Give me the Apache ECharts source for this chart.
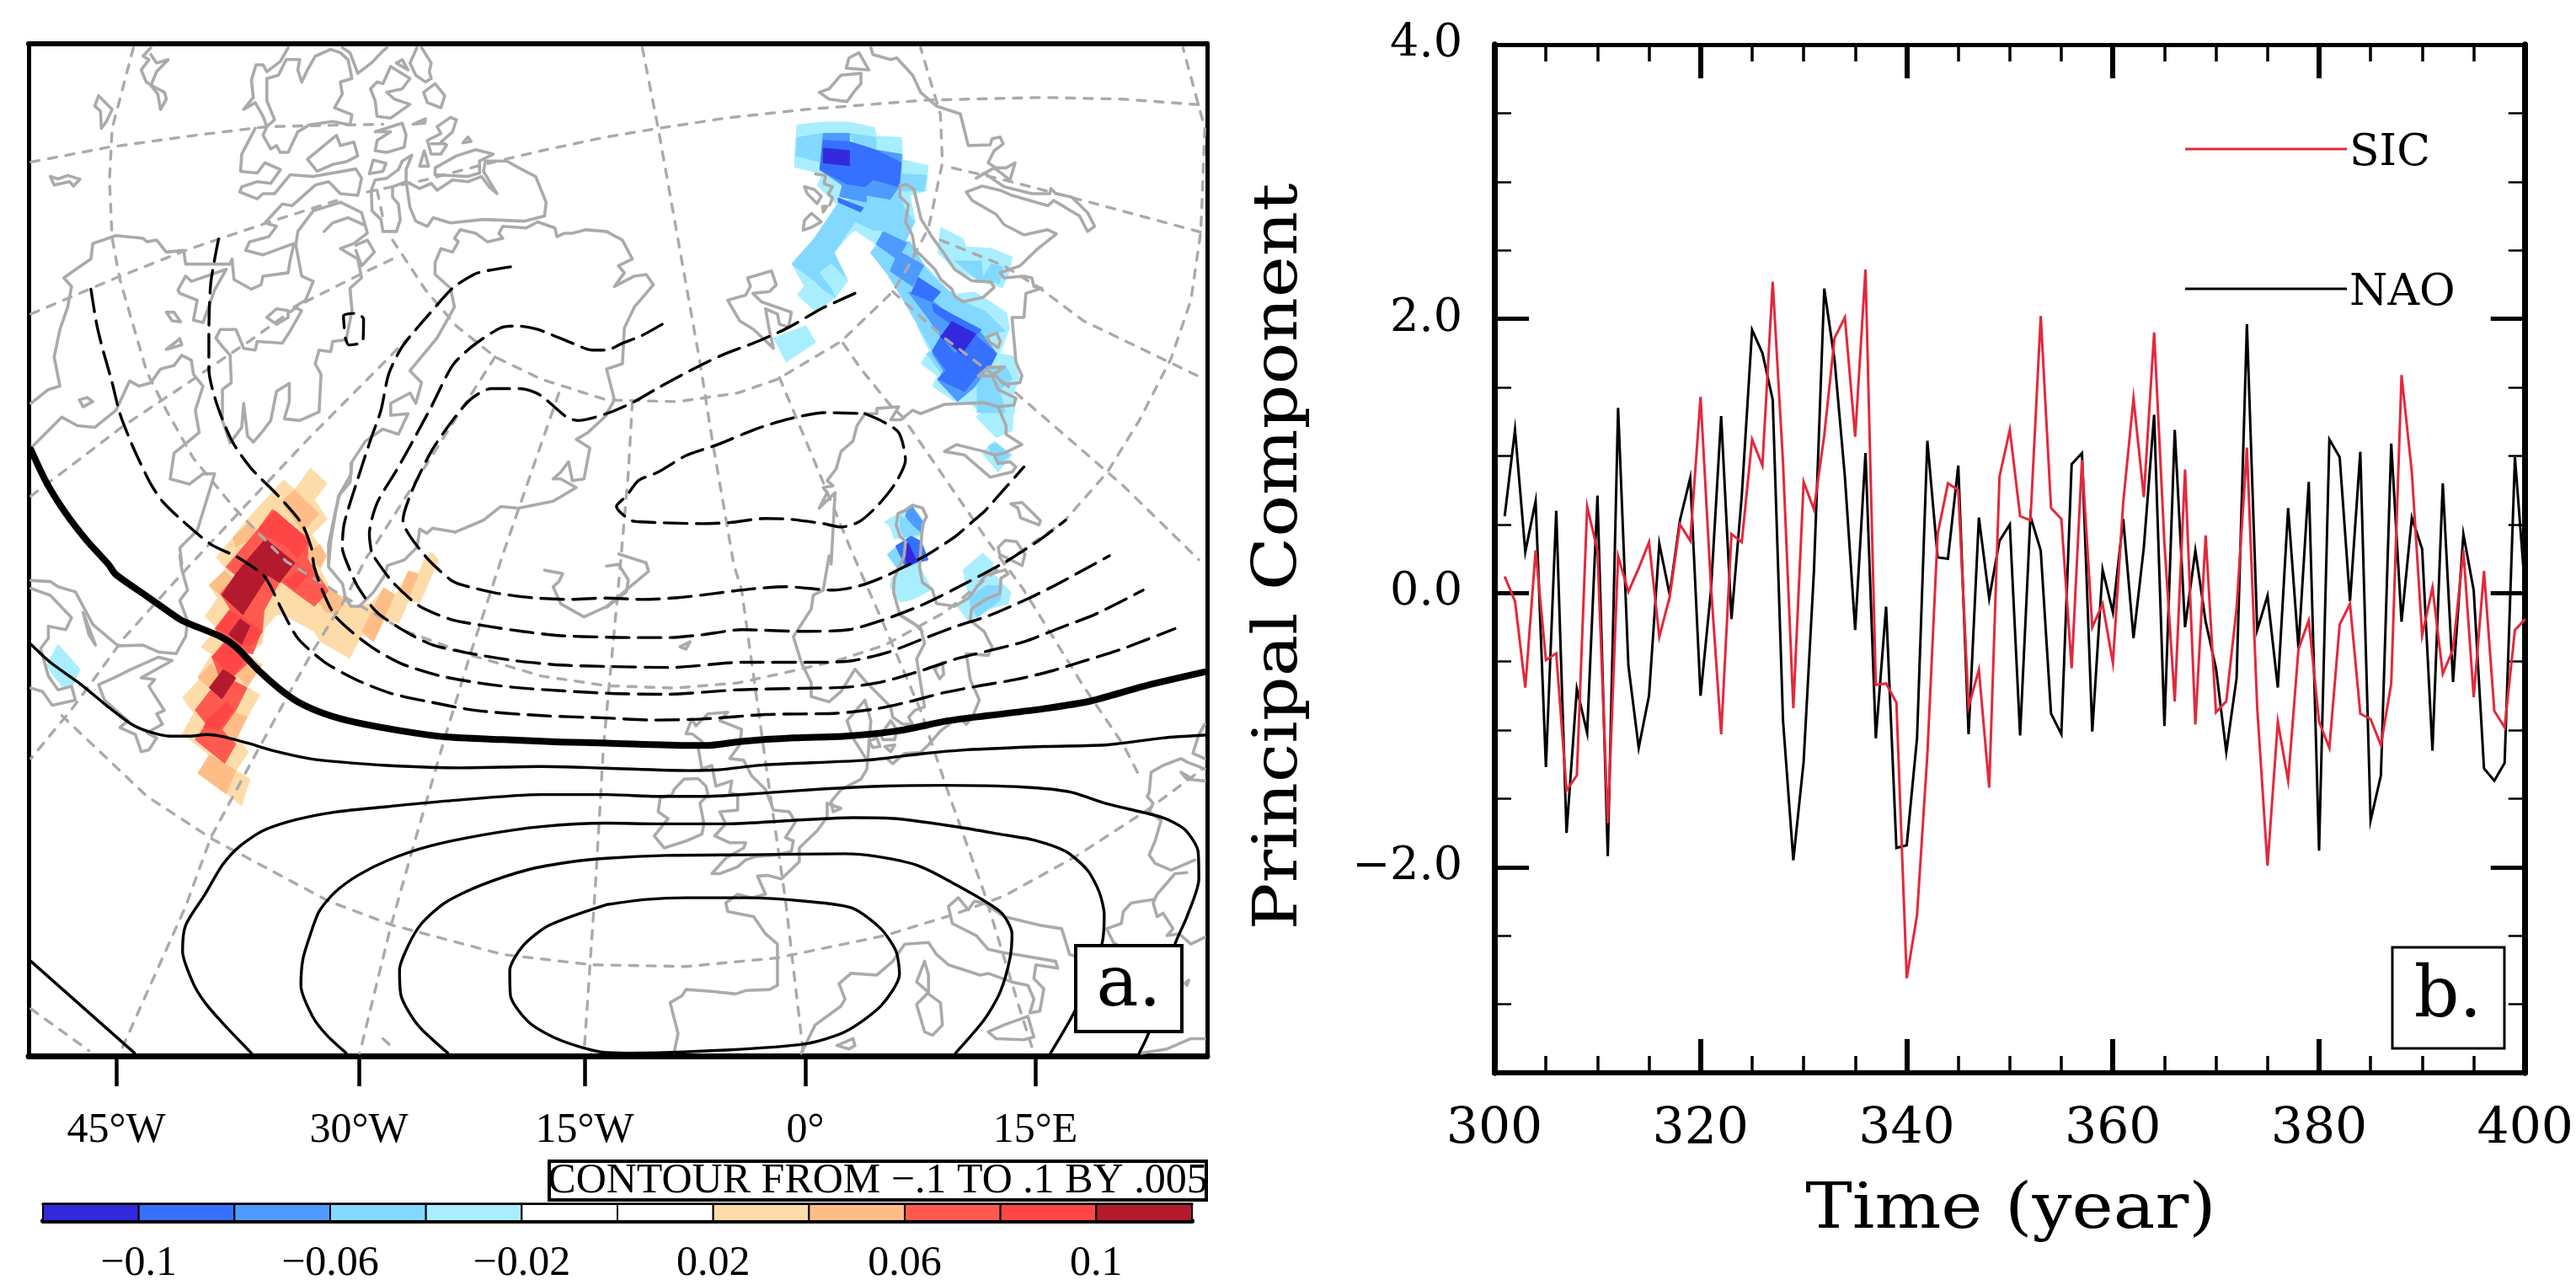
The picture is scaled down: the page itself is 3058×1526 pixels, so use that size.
<!DOCTYPE html>
<html><head><meta charset="utf-8">
<script src="https://cdn.jsdelivr.net/npm/echarts@6/dist/echarts.min.js"></script>
<style>html,body{margin:0;padding:0;background:#fff}#c{width:3058px;height:1526px}</style>
</head><body><div id="c"></div>
<script>
// ---------- panel b data ----------
const years=[];for(let y=301;y<=400;y++)years.push(y);
const nao=[0.56,1.19,0.30,0.67,-1.27,0.60,-1.75,-0.70,-1.02,0.71,-1.92,1.35,-0.53,-1.13,-0.75,0.36,-0.01,0.53,0.84,-0.75,
0.01,1.29,-0.19,0.71,1.92,1.75,1.41,-0.93,-1.95,-1.23,0.16,2.22,1.70,0.85,-0.27,1.02,-1.06,-0.10,-1.86,-1.84,
-1.06,1.11,0.26,0.25,0.93,-1.03,0.55,-0.04,0.38,0.50,-1.04,0.56,0.31,-0.88,-1.03,0.94,1.02,-1.01,0.17,-0.14,
0.54,-0.33,0.33,1.30,-0.97,1.19,-0.25,0.31,-0.21,-0.55,-1.16,-0.62,1.96,-0.27,-0.02,-0.69,0.62,-0.40,0.81,-1.88,
1.12,0.99,-0.06,1.03,-1.66,-1.33,1.09,-0.21,0.55,0.32,-1.15,0.80,-0.65,0.43,0.02,-1.28,-1.37,-1.24,0.99,0.01];
const sic=[0.12,-0.06,-0.69,0.31,-0.49,-0.44,-1.44,-1.33,0.63,0.31,-1.68,0.27,0.01,0.18,0.37,-0.32,-0.03,0.50,0.38,1.43,
0.06,-1.03,0.43,0.37,1.12,0.93,2.27,0.95,-0.84,0.81,0.61,1.15,1.86,2.01,1.14,2.36,-0.67,-0.66,-0.80,-2.81,
-2.35,-1.18,0.43,0.80,0.75,-0.83,-0.56,-1.42,0.85,1.19,0.56,0.53,2.02,0.62,0.54,-0.55,0.97,-0.25,-0.08,-0.51,
0.66,1.42,0.70,1.90,0.36,-0.79,0.90,-0.96,0.42,-0.87,-0.79,-0.11,1.06,-0.84,-1.99,-0.94,-1.37,-0.41,-0.20,-0.94,
-1.13,-0.23,-0.08,-0.88,-0.92,-1.11,-0.66,1.59,0.88,-0.31,0.04,-0.59,-0.41,0.31,-0.76,0.16,-0.86,-0.98,-0.27,-0.19];
const yMajor=[-2,0,2,4];
const yMinor=[-3,-2.5,-1.5,-1,-0.5,0.5,1,1.5,2.5,3,3.5];

// ---------- panel a axis and colour bar ----------
const lonTicks=[138,426,694,956,1229];
const lonLabels=['45°W','30°W','15°W','0°','15°E'];
const levelColors=['#3229dd','#3670fe','#4e9bff','#83d8ff','#a9eeff','#ffffff','#ffffff','#fedcaa','#febd87','#ff5a50','#ff4646','#b31a2d'];
const barTicks=[1,3,5,7,9,11];
const barLabels=['−0.1','−0.06','−0.02','0.02','0.06','0.1'];

// ---------- map plane readers (crop origin + crop scale) ----------
const tile=(x0,y0,sx,sy)=>p=>p.map(([x,y])=>[x0+x/sx,y0+y/sy]);
const A=tile(0,30,2.178,2.45),B=tile(720,30,2.119,2.45),C=tile(0,660,2.178,2.45),D=tile(720,660,2.119,2.45),
      W=tile(180,550,3,3),N=tile(900,130,3,3),S=tile(1040,580,3,3);

// ---------- contours ----------
const solidThick=[...A([[80,1235],[120,1330],[170,1420],[225,1500],[280,1568]]),...C([[300,55],[380,118],[465,185],[490,198],[570,235],[610,265],[670,335],[720,385],[770,425],[840,460],[920,485],[1040,510],[1150,527],[1300,535],[1450,542],[1568,545]]),...D([[210,552],[250,552],[340,540],[470,530],[600,525],[730,510],[860,480],[960,465],[1100,445],[1220,422],[1350,380],[1505,338]])];
const solid1=[...C([[80,258],[130,310],[210,375],[280,440],[340,490],[385,512],[440,525],[490,525],[535,520],[580,527],[640,545],[710,568],[800,590],[880,600],[1000,610],[1190,617],[1400,613],[1568,618]]),...D([[210,625],[280,623],[400,608],[650,595],[800,575],[900,565],[1100,555],[1260,550],[1400,530],[1505,522]])];
const solid2=[...C([[650,1447],[580,1365],[530,1300],[500,1245],[472,1150],[480,1075],[530,985],[575,900],[620,845],[680,800],[765,768],[870,745],[1000,730],[1170,712],[1400,695],[1568,695]]),...D([[130,700],[250,700],[400,690],[550,678],[700,670],[850,668],[1050,673],[1165,687],[1260,722],[1400,762],[1455,797],[1488,860],[1490,940],[1460,1050],[1430,1130],[1365,1385],[1340,1447]])];
const solid3=[...C([[895,1447],[845,1395],[808,1340],[778,1250],[783,1175],[800,1110],[825,1035],[865,980],[925,930],[1005,885],[1110,845],[1250,812],[1400,788],[1568,778]]),...D([[130,780],[300,780],[470,770],[620,762],[730,765],[890,790],[1000,812],[1075,827],[1155,860],[1210,915],[1240,980],[1252,1045],[1245,1135],[1180,1320],[1117,1447]])];
const solid4=[...C([[1158,1447],[1080,1365],[1037,1280],[1033,1205],[1055,1135],[1090,1070],[1150,1010],[1240,960],[1370,912],[1480,890],[1568,880]]),...D([[150,872],[350,870],[600,867],[680,875],[780,900],[860,945],[990,1035],[1020,1100],[1015,1170],[990,1270],[950,1350],[878,1447]])];
const solid5=[...C([[1568,1015],[1420,1075],[1352,1135],[1318,1207],[1320,1280],[1370,1360],[1450,1410],[1560,1445]]),...D([[50,1447],[300,1438],[500,1420],[600,1385],[690,1310],[737,1217],[728,1150],[690,1085],[618,1025],[500,1005],[350,995],[200,995],[100,1000],[0,1015]])];
const solid6=C([[80,1180],[348,1447]]);
const dashD=[...A([[235,768],[250,870],[265,940],[290,1040],[310,1130],[345,1230],[390,1335],[420,1385],[470,1440],[545,1510],[610,1545]]),...C([[630,15],[680,55],[700,90],[730,160],[770,240],[840,310],[920,360],[1010,400],[1110,425],[1230,450],[1400,465],[1568,472]]),...D([[120,478],[240,475],[400,462],[580,458],[680,445],[760,425],[850,398],[940,378],[1030,360],[1120,335],[1205,305],[1295,272],[1430,212]])];
const dashC=[...A([[565,622],[545,750],[540,900],[540,1000],[560,1100],[600,1210],[650,1290],[720,1370],[780,1450],[805,1520]]),...C([[812,30],[835,105],[870,180],[960,265],[1040,315],[1140,350],[1250,372],[1350,385],[1568,400]]),...D([[150,403],[330,390],[520,385],[610,382],[700,365],[790,335],[880,300],[1050,250],[1140,210],[1230,170],[1350,100]])];
const dashB=[...A([[1320,703],[1255,715],[1225,725],[1170,765],[1110,840],[1040,935],[1005,1015],[985,1120],[960,1200],[925,1320],[890,1450],[885,1520]]),...C([[895,15],[925,90],[975,165],[1055,225],[1120,260],[1220,285],[1330,305],[1450,318],[1568,322]]),...D([[160,325],[340,310],[540,310],[620,305],[710,280],[800,240],[880,205],[960,175],[1060,125],[1130,85],[1210,35],[1265,0]])];
const dashA=[...B([[140,870],[85,905],[40,925],[0,945]]),...A([[1530,945],[1480,925],[1390,885],[1340,875],[1295,880],[1220,935],[1170,990],[1115,1110],[1060,1225],[1025,1295],[975,1390],[955,1480],[960,1530]]),...C([[965,0],[1010,70],[1055,120],[1090,150],[1165,185],[1260,205],[1350,220],[1445,232],[1568,237]]),...D([[60,238],[155,238],[240,230],[340,215],[490,220],[610,215],[700,185],[790,145],[870,100],[1000,20]]),...B([[1080,1505],[1110,1480],[1155,1440]])];
const dashE=[...B([[625,780],[540,825],[460,878],[380,920],[290,960],[210,1005],[130,1055],[70,1095],[0,1130]]),...A([[1495,1150],[1465,1140],[1395,1075],[1345,1057],[1270,1057],[1215,1090],[1160,1165],[1115,1240],[1065,1355],[1042,1440],[1100,1545]]),...C([[1165,70],[1195,85],[1280,108],[1375,122],[1470,127],[1568,123]]),...D([[90,127],[180,122],[270,110],[360,97],[450,90],[570,100],[635,88],[700,60]]),...B([[800,1545],[855,1505],[880,1485],[925,1440],[950,1415],[985,1370],[1050,1285]])];
const dashOval=B([[650,1130],[690,1150],[735,1185],[752,1265],[725,1335],[680,1400],[635,1445],[590,1460],[545,1450],[460,1437],[400,1435],[310,1447],[240,1450],[90,1445],[60,1440],[25,1400],[50,1370],[80,1325],[130,1300],[200,1252],[280,1220],[375,1175],[460,1145],[550,1127],[650,1130]]);
const dashSquare=A([[890,880],[888,845],[920,838],[940,855],[938,920],[902,930],[893,910]]);

// ---------- graticule ----------
const graticule=[
 A([[80,398],[280,355],[520,318],[690,295],[900,290],[990,288]]),
 [...A([[950,485],[1100,450],[1250,405],[1400,365],[1568,325]]),...B([[130,300],[300,270],[500,245],[800,218],[1100,210],[1300,215],[1500,232]])],
 A([[80,840],[300,735],[480,655],[690,575],[870,510]]),
 A([[80,1370],[320,1165],[480,1045],[590,960],[650,915],[780,810],[940,720],[1015,680]]),
 [...A([[1060,905],[800,1200],[620,1415],[500,1560]]),...C([[440,90],[320,240],[190,440],[80,590]])],
 [...A([[345,65],[290,300],[283,450],[290,620],[310,740],[380,1010],[430,1120],[500,1260],[610,1410],[740,1560]]),...C([[890,120],[1050,220],[1220,290],[1400,350],[1568,378]]),...D([[170,385],[330,370],[450,340],[580,305],[700,260],[850,165]]),...B([[1030,1540],[1150,1445],[1260,1300],[1340,1150],[1420,970],[1470,800],[1495,600],[1505,300],[1450,65]])],
 [...C([[160,465],[380,700],[550,825],[850,1005],[1015,1075],[1300,1160],[1530,1190]]),...D([[200,1195],[430,1170],[700,1105],[870,1045],[1000,990],[1180,875],[1360,740],[1500,620]])],
 C([[80,1318],[230,1440]]),C([[990,1405],[1010,1425]]),
 [...A([[975,480],[990,560]])],
 [...A([[1015,625],[1100,770],[1180,875],[1280,965],[1400,1030],[1568,1090]]),...B([[180,1095],[330,1070],[430,1030],[590,920],[720,775],[760,700],[810,590],[845,400],[840,260],[790,65]])],
 [...A([[1280,965],[1090,1300],[960,1530]]),...C([[950,0],[890,130],[810,275],[745,405],[650,600],[545,820],[480,1020],[310,1447]])],
 [...A([[1445,1070],[1340,1410],[1300,1540]]),...C([[1270,100],[1215,290],[1150,530],[1065,860],[1010,1080],[930,1447]])],
 [...B([[65,1095],[55,1300],[35,1568]]),...C([[1560,560],[1540,950],[1510,1447]])],
 [...B([[435,1025],[520,1260],[620,1540]]),...D([[690,180],[790,450],[860,690],[950,980],[1040,1320],[1075,1447]])],
 [...B([[90,65],[130,300],[235,980],[265,1200],[320,1568]]),...D([[340,100],[400,600],[450,1000],[495,1447]])],
 [...B([[595,925],[640,1000],[710,1100],[745,1140],[900,1400],[965,1510]]),...D([[1050,100],[1200,380],[1300,550],[1340,640]])],
 B([[720,775],[850,910],[1000,1040],[1150,1190],[1300,1340],[1490,1555]]),
 B([[870,415],[1000,450],[1200,510],[1505,605]]),
 B([[840,625],[1000,700],[1090,765],[1200,860],[1505,1030]]),
];

// ---------- coastlines ----------
const coastNW=[
 [[390,65],[370,90],[385,100],[365,130],[378,165],[400,180],[425,195],[430,215],[415,245],[408,200],[390,175],[405,135],[435,100],[405,110],[390,85]],
 [[255,205],[245,235],[260,250],[262,300],[275,280],[290,245],[255,205]],
 [[130,440],[140,465],[180,455],[190,468],[207,448],[175,437],[150,447],[130,440]],
 [[205,1090],[215,1110],[240,1095],[225,1083],[205,1090]],
 [[745,65],[725,105],[690,135],[680,115],[662,115],[650,160],[655,210],[630,245],[660,225],[680,265],[690,295],[680,320],[700,360],[715,350],[725,370],[745,370],[770,310],[800,290],[860,280],[905,290],[910,260],[865,240],[885,200],[880,165],[910,155],[900,100],[880,80],[855,70],[815,90],[795,130],[780,165],[770,130],[775,100],[740,100],[720,145],[690,155],[690,220],[710,275],[690,295]],
 [[885,65],[905,80],[925,140],[960,110],[990,75],[1000,65]],
 [[1010,120],[1060,155],[1040,185],[1000,195],[1020,215],[1060,230],[1010,270],[975,265],[970,220],[958,185],[975,165],[990,170],[1010,120]],
 [[1025,110],[1055,130],[1040,100],[1025,110]],
 [[1090,65],[1115,110],[1110,135],[1115,155],[1100,165],[1075,145],[1060,110],[1078,65]],
 [[1095,195],[1125,170],[1150,205],[1140,240],[1105,225],[1095,195]],
 [[970,310],[1040,285],[1050,320],[1045,355],[1000,370],[970,365],[975,335],[1010,310],[970,310]],
 [[1068,288],[1100,272],[1098,285],[1068,288]],
 [[1105,335],[1140,315],[1130,295],[1165,268],[1180,275],[1170,310],[1140,340],[1155,348],[1140,375],[1115,375],[1105,335]],
 [[1197,342],[1210,325],[1218,338],[1197,342]],
 [[1085,410],[1097,365],[1108,410],[1085,410]],
 [[955,432],[965,392],[998,402],[990,425],[955,432]],
 [[1065,378],[1040,395],[1030,420],[1000,445],[970,450],[960,480],[962,540],[985,565],[990,600],[1025,600],[1035,565],[1030,520],[1015,500],[1015,470],[1050,455],[1050,420],[1065,378]],
 [[795,390],[870,320],[880,350],[915,340],[925,380],[895,397],[860,405],[820,425],[795,390]],
 [[660,300],[625,375],[622,425],[665,430],[685,400],[725,420],[700,460],[665,455],[625,470],[620,485],[665,505],[680,490],[710,490],[750,435],[810,440],[920,418],[935,445],[925,495],[880,490],[850,455],[815,465],[755,525],[730,520],[685,575],[715,585],[695,615],[645,630],[635,655],[680,668],[760,635],[750,685],[745,720],[680,730],[675,755],[650,768],[605,740],[600,680],[595,695],[480,695],[475,655],[430,660],[405,625],[380,630],[370,620],[300,612],[240,635],[235,680],[190,715],[165,735],[185,760],[175,820],[155,885],[140,965],[155,1050],[125,1060],[80,1100]],
 [[80,1230],[160,1140],[200,1165],[245,1170],[300,1120],[335,1035],[360,1050],[390,1040],[415,1000],[450,990],[470,960],[495,975],[500,1015],[525,1050],[505,1120],[515,1185],[450,1245],[440,1320],[490,1335],[525,1305],[555,1305],[510,1470],[465,1520],[470,1568]],
 [[880,515],[810,540],[770,600],[765,640],[780,730],[810,745],[790,800],[760,820],[780,830],[750,890],[730,925],[665,920],[660,945],[630,940],[610,885],[570,885],[558,910],[575,935],[595,960],[598,1040],[575,1060],[575,1150],[595,1215],[625,1170],[630,1100],[640,1195],[655,1213],[680,1180],[700,1150],[715,1065],[748,1042],[748,1095],[735,1145],[775,1150],[825,1125],[830,1015],[815,985],[825,945],[855,950],[860,920],[895,915],[910,830],[905,765],[935,735],[925,680],[880,650],[915,635],[950,605],[935,545],[880,515]],
 [[838,600],[860,575],[900,560],[940,580]],
 [[920,640],[950,625],[968,660],[935,700],[920,655]],
 [[460,770],[480,730],[495,745],[585,710],[555,770],[525,865],[500,858],[510,800],[465,780],[460,770]],
 [[690,850],[715,825],[745,830],[745,850],[715,870],[690,850]],
 [[430,835],[450,835],[467,863],[445,860],[430,835]],
 [[430,943],[465,912],[470,930],[430,943]],
 [[1050,455],[1060,530],[1075,570],[1105,585],[1120,560],[1165,575],[1250,565],[1355,570],[1408,555],[1412,515],[1385,440],[1350,420],[1310,395],[1255,395],[1250,425],[1285,490],[1265,470],[1245,440],[1210,455],[1170,450],[1130,480],[1115,460],[1085,475],[1050,455]],
 [[1125,435],[1125,415],[1180,380],[1230,362],[1275,375],[1240,395],[1240,430],[1210,440],[1125,435]],
 [[1115,345],[1150,345]],
 [[1568,600],[1515,595],[1480,605],[1460,605],[1440,615],[1435,590],[1390,572],[1360,590],[1300,585],[1290,605],[1300,620],[1260,630],[1230,605],[1190,595],[1175,620],[1185,630],[1170,660],[1140,650],[1125,690],[1125,725],[1165,765],[1175,820],[1130,910],[1060,1005],[1090,1040],[1075,1100],[1060,1070],[1010,1100],[1010,1135],[1055,1130],[1030,1190],[990,1175],[945,1210],[910,1270],[905,1330],[875,1370],[855,1500],[850,1568]],
 [[1176,1475],[1250,1440],[1295,1400],[1340,1405],[1430,1385],[1490,1345],[1450,1320],[1430,1320],[1450,1300],[1470,1270],[1480,1325],[1510,1320],[1525,1230],[1490,1205],[1520,1185],[1568,1135]],
];
const coastSW=[
 [[465,0],[470,40],[485,100],[465,130],[485,190],[480,235],[455,285],[410,280],[370,260],[305,262],[240,200],[195,105],[150,90],[130,75],[80,72]],
 [[80,95],[130,115],[185,180],[170,215],[125,205],[125,240],[105,270],[125,350],[150,390],[185,380],[195,420],[135,435],[110,395],[80,385]],
 [[215,165],[247,260],[230,230],[215,165]],
 [[445,305],[410,295],[340,330],[295,355],[255,375],[270,420],[330,480],[310,500],[350,520],[365,570],[385,565],[405,530],[380,515],[420,490],[405,460],[425,450],[385,380],[400,360],[365,355],[445,305]],
 [[1408,42],[1455,52],[1445,75],[1430,90],[1450,140],[1510,178],[1568,148],[1677,45],[1670,20],[1600,-5]],
];
const coastDenmarkStrait=[
 [[710,0],[710,40],[670,110],[655,170],[630,290],[630,370],[680,430],[690,480],[710,510],[740,510],[790,460],[830,400],[840,365],[900,345],[945,300],[955,235],[980,250],[1000,232],[1080,245]],
];
const coastNE=[
 [[0,600],[40,625],[65,680],[30,700],[45,720],[20,760],[70,730],[100,725],[118,755],[70,820],[45,880],[40,985],[0,1000],[20,1090],[0,1130]],
 [[603,125],[610,95],[635,80],[660,130],[603,125]],
 [[640,140],[590,145],[560,185],[535,195],[560,215],[605,222],[625,190],[640,170],[640,140]],
 [[665,65],[670,85],[715,100],[730,95],[770,145],[790,195],[830,235],[890,258],[910,350],[965,348],[970,330],[990,325],[998,345],[975,365],[960,400],[980,415],[1005,415],[1028,400],[1015,450],[975,415],[930,445],[950,430],[1000,470],[1070,490],[1115,490],[1118,475],[1130,490],[1170,500],[1210,545],[1228,585],[1210,600],[1190,555],[1125,510],[1110,525],[1020,495],[990,480],[945,468],[905,485],[920,510],[980,550],[1000,580],[1050,610],[1110,595],[1132,607],[1085,650],[1040,700],[990,720],[1000,735],[1050,730],[1070,735],[1075,760],[1095,765],[1055,780],[1050,850],[1020,850],[1030,980],[1045,1020],[1040,1040],[1000,1045],[975,1015],[1000,995],[960,995],[935,1020],[970,1020],[985,1060],[1030,1085],[1025,1105],[985,1110],[950,1098],[850,1103],[790,1130],[770,1120],[740,1148],[715,1148],[735,1110],[680,1115],[680,1130],[650,1130],[630,1165],[620,1210],[590,1240],[578,1290],[555,1325],[570,1340],[545,1345],[555,1360],[535,1405],[575,1360],[565,1568]],
 [[305,800],[350,785],[362,760],[355,735],[415,715],[427,755],[410,775],[368,780],[390,805],[465,835],[458,878],[435,870],[430,840],[400,825],[410,890],[420,940],[370,885],[335,860],[305,800]],
 [[975,1250],[950,1240],[880,1220],[850,1240],[900,1250],[965,1315],[1020,1300],[1030,1285],[1015,1270],[985,1275],[975,1250],[1000,1245],[1045,1220],[1005,1190],[1005,1165],[985,1110]],
];
const coastIslandsBarents=[
 [[205,230],[240,235],[235,265],[265,275],[250,300],[265,315],[255,340]],
 [[165,275],[200,285],[225,310],[210,335],[175,300],[165,275]],
 [[230,345],[245,345],[232,365],[230,345]],
 [[160,430],[165,395],[190,370],[225,400],[190,420],[160,430]],
 [[505,270],[530,268],[555,285],[580,390],[620,455],[660,510],[700,570],[760,610],[830,615],[840,635],[800,670],[730,685],[700,665],[690,640],[650,605],[630,570],[570,510],[560,515],[550,450],[525,400],[535,340],[505,310],[505,270]],
 [[815,810],[850,797],[862,825],[855,848],[825,830],[815,810]],
];
const coastBaltic=[
 [[130,60],[100,80],[78,90],[72,130],[85,170],[105,190],[100,240],[65,320],[62,370],[85,450],[140,485],[165,510]],
 [[130,60],[165,70],[180,100],[165,130],[155,280],[165,335],[200,360],[215,410],[280,420],[330,390],[390,310],[460,290],[470,305],[445,320],[440,375],[390,395],[340,430],[335,470],[385,510],[400,540]],
 [[480,55],[520,50],[545,75],[585,115],[580,130],[515,105],[505,70],[480,55]],
 [[435,210],[460,185],[500,190],[530,235],[520,275],[490,260],[440,235],[435,210]],
];
const coastEurope=[
 [[0,150],[50,105],[55,70],[30,25],[0,30]],
 [[560,0],[545,100],[520,115],[515,155],[470,235],[490,310],[515,370],[515,410],[560,425],[590,395],[625,330],[655,370],[715,440],[720,470],[745,490],[770,490],[760,470],[775,450],[800,440],[780,300],[800,255],[790,210],[737,172]],
 [[960,245],[970,265],[960,290],[905,285],[915,360],[938,420],[920,470],[905,490],[885,470],[840,510],[810,550],[790,572],[750,575],[720,605],[705,590],[655,595],[620,530],[605,480],[650,420],[665,480],[655,620],[640,650],[590,680],[565,715],[570,745],[590,735],[555,720],[555,760],[530,800],[485,850],[485,890],[440,940],[405,930],[380,932],[400,985],[365,995],[330,985],[300,1010],[305,1035],[370,1050],[400,1100],[430,1130],[430,1250],[410,1262],[350,1265],[325,1275],[270,1268],[200,1262],[190,1280],[160,1300],[180,1390],[170,1445]],
 [[490,1447],[525,1365],[590,1310],[600,1290],[585,1245],[615,1215],[680,1220],[720,1180],[750,1130],[810,1125],[830,1160],[860,1190],[940,1220],[960,1215],[1020,1240],[1060,1250],[1075,1290],[1065,1330],[1090,1325],[1100,1260],[1075,1230],[1080,1190],[1135,1200],[1130,1180],[1030,1160],[1000,1155],[960,1145],[930,1105],[870,1070],[860,1020],[885,995],[910,1030],[925,1005],[950,1010],[1000,1050],[1090,1075],[1145,1085],[1165,1160],[1180,1165]],
 [[690,520],[715,480],[730,505],[725,535],[695,535],[690,520]],
 [[660,540],[680,530],[688,555],[670,558],[660,540]],
 [[700,555],[725,550],[715,570],[700,555]],
 [[200,518],[215,475],[225,495],[255,460],[305,455],[285,480],[340,505],[335,550],[310,590],[345,595],[365,640],[400,680],[420,740],[460,745],[475,775],[450,820],[470,830],[465,860],[430,870],[375,875],[350,885],[330,905],[285,925],[265,925],[300,880],[345,850],[350,835],[310,835],[272,815],[300,780],[285,745],[330,740],[330,695],[310,690],[315,655],[275,670],[265,610],[240,620],[230,555],[240,540],[215,518],[200,518]],
 [[170,680],[195,650],[230,648],[250,670],[255,695],[235,720],[245,780],[240,810],[200,830],[145,850],[120,815],[155,765],[130,745],[135,705],[165,695],[170,680]],
 [[185,265],[210,250],[200,272],[185,265]],
 [[825,330],[845,310],[848,345],[838,358],[825,330]],
 [[580,1425],[620,1405],[625,1425],[610,1435],[580,1425]],
 [[800,1180],[810,1220],[810,1275],[840,1300],[845,1365],[820,1395],[800,1385],[780,1305],[810,1270],[780,1240],[800,1180]],
 [[960,1385],[1000,1365],[1060,1340],[1075,1400],[1050,1408],[980,1405],[960,1385]],
 [[1505,1405],[1470,1405],[1410,1435],[1345,1447]],
 [[1447,1250],[1465,1235],[1460,1250]],
 [[1505,490],[1490,520],[1475,575],[1505,590]],
 [[1505,620],[1460,600],[1445,590],[1400,610],[1370,630],[1365,690],[1360,700],[1375,720],[1365,745],[1395,770],[1380,830],[1365,870],[1380,895],[1420,915],[1480,885]],
 [[1475,650],[1445,630],[1460,650],[1505,655]],
 [[1460,922],[1430,925],[1385,985],[1375,1010],[1385,1050],[1400,1040],[1425,1085],[1410,1105],[1440,1100],[1470,1130],[1505,1110]],
 [[1375,1000],[1320,1010],[1300,1035],[1295,1070],[1258,1085],[1275,1125],[1310,1150],[1380,1155]],
];

// ---------- shaded cells: [colour level, outline] ----------
const shadeWarm=[
 [7,[[565,18],[625,72],[580,130],[625,200],[570,255],[625,330],[600,380],[640,450],[720,510],[780,500],[830,445],[870,470],[890,430],[915,385],[950,395],[975,335],[1000,320],[1022,345],[955,497],[915,490],[880,570],[830,555],[790,635],[750,610],[705,695],[600,635],[580,600],[470,540],[445,540],[400,590],[395,640],[345,680],[395,720],[340,800],[385,825],[340,905],[300,970],[345,1030],[300,1095],[350,1125],[320,1220],[265,1175],[170,1105],[205,1040],[110,965],[150,890],[110,835],[170,770],[165,760],[215,680],[175,655],[235,590],[190,545],[235,480],[205,435],[265,375],[230,335],[290,265],[350,190],[470,60],[510,95]]],
 [8,[[470,130],[510,95],[595,180],[540,245],[470,150]]],
 [8,[[290,265],[345,215],[390,245],[300,300]]],
 [8,[[205,435],[260,385],[300,420],[245,470]]],
 [8,[[540,330],[600,290],[620,330],[600,370]]],
 [8,[[590,490],[640,450],[690,490],[660,540],[620,530]]],
 [8,[[750,600],[825,445],[865,470],[790,635]]],
 [8,[[885,460],[915,385],[950,395],[915,480]]],
 [8,[[165,765],[210,715],[250,760],[205,800]]],
 [8,[[300,750],[345,705],[390,720],[340,795]]],
 [8,[[165,1105],[205,1040],[300,1095],[265,1178]]],
 [8,[[255,950],[290,885],[340,905],[300,985]]],
 [9,[[265,370],[380,235],[430,165],[560,270],[555,340],[630,455],[580,510],[510,460],[465,425],[455,425],[400,525],[395,590],[360,680],[310,670],[340,715],[280,770],[340,800],[300,880],[250,950],[300,1000],[260,1070],[155,985],[195,930],[155,880],[205,815],[245,770],[215,690],[265,630],[225,590],[280,520],[245,465],[300,400]]],
 [10,[[380,235],[440,170],[480,205],[560,280],[520,340],[470,290],[410,260],[385,245]]],
 [10,[[470,420],[540,375],[560,395],[510,450]]],
 [10,[[230,590],[275,525],[325,550],[395,600],[355,650],[310,650],[275,610]]],
 [10,[[215,690],[265,640],[330,700],[290,760]]],
 [10,[[205,905],[270,850],[290,880],[240,950],[185,940]]],
 [11,[[250,470],[300,395],[345,340],[405,270],[510,355],[455,425],[415,400],[325,540]]],
 [11,[[275,610],[315,555],[350,580],[320,645]]],
 [11,[[205,800],[255,735],[300,765],[250,840]]],
];
const shadeColdNorth=[
 [4,[[138,55],[230,45],[325,45],[415,65],[420,95],[510,100],[515,180],[605,200],[598,290],[540,305],[560,400],[525,470],[590,555],[610,570],[690,660],[770,650],[835,690],[885,725],[895,780],[860,870],[910,880],[930,955],[910,1010],[915,1080],[790,1080],[760,1050],[700,1040],[620,985],[640,950],[580,905],[610,860],[565,770],[590,760],[465,600],[470,570],[400,510],[420,480],[345,430],[330,440],[270,510],[320,610],[275,670],[205,720],[140,660],[165,630],[120,550],[200,460],[280,340],[210,270],[230,230],[130,205],[130,170]]],
 [4,[[55,815],[170,770],[205,830],[100,900]]],
 [4,[[650,420],[730,460],[740,490],[830,495],[905,525],[895,580],[870,635],[790,610],[700,570],[640,510]]],
 [3,[[138,100],[232,85],[232,190],[135,165]]],
 [3,[[325,85],[420,100],[420,145],[515,160],[510,230],[600,235],[590,290],[500,290],[400,240]]],
 [3,[[285,335],[385,305],[500,290],[520,350],[555,400],[525,470],[440,430],[410,430],[345,400],[270,510],[315,605],[260,640],[275,670],[230,640],[200,610],[120,550],[200,460]]],
 [4,[[220,580],[260,550],[320,610],[270,650]]],
 [3,[[400,510],[430,480],[540,470],[600,570],[650,620],[720,680],[810,720],[880,790],[815,800],[780,870],[700,920],[660,950],[600,870],[620,860],[570,770],[470,600]]],
 [3,[[780,940],[880,910],[905,960],[860,1000],[880,1080],[780,1080]]],
 [3,[[700,540],[795,540],[800,600],[830,550],[870,560],[860,620],[780,605]]],
 [2,[[232,85],[325,85],[325,115],[420,145],[510,160],[505,270],[470,320],[385,305],[385,330],[290,310],[300,270],[220,215]]],
 [2,[[420,480],[445,435],[530,475],[510,510],[590,555],[550,630],[470,575],[490,530]]],
 [2,[[535,650],[620,680],[690,740],[790,790],[850,870],[830,900],[770,990],[710,1040],[640,965],[660,930],[620,870],[650,810],[610,750]]],
 [1,[[232,110],[325,115],[420,145],[510,190],[500,275],[410,250],[380,275],[315,265],[220,215]]],
 [1,[[285,315],[375,350],[365,365],[285,330]]],
 [1,[[545,655],[570,598],[650,650],[620,685]]],
 [1,[[620,690],[700,735],[795,785],[775,805],[680,760],[625,720]]],
 [1,[[650,810],[700,870],[775,805],[850,870],[830,910],[770,960],[735,1005],[640,960],[670,930],[620,860]]],
 [0,[[232,138],[325,147],[325,200],[232,190]]],
 [0,[[650,810],[690,755],[775,800],[725,870]]],
];
const shadeColdKara=[
 [4,[[905,1070],[1000,1050],[1025,1110],[1020,1180],[980,1200],[930,1140],[970,1100]]],
 [4,[[945,1245],[975,1210],[1020,1250],[985,1300]]],
 [3,[[960,1225],[980,1215],[1015,1250],[985,1280]]],
];
const shadeColdSouth=[
 [4,[[30,120],[70,95],[115,65],[150,90],[175,125],[165,170],[105,175],[65,180],[50,135]]],
 [3,[[85,100],[120,115],[165,160],[100,175],[85,140]]],
 [2,[[110,80],[130,65],[170,125],[165,160],[130,130],[105,100]]],
 [3,[[40,235],[95,190],[120,170],[160,185],[185,250],[150,265],[120,285],[75,285]]],
 [1,[[95,190],[125,170],[160,190],[185,255],[140,265],[105,280],[70,205]]],
 [0,[[100,205],[115,195],[145,260],[110,280]]],
 [4,[[55,320],[95,290],[150,270],[185,335],[200,360],[130,395],[85,405],[50,350]]],
 [4,[[310,290],[380,230],[415,265],[415,300],[480,370],[470,410],[400,430],[330,475],[285,415],[330,380]]],
 [3,[[335,385],[395,345],[450,350],[440,400],[360,460],[335,415]]],
];
const shadeLabrador=[[4,[[150,258],[207,330],[190,375],[160,380],[120,320]]]];

// ---------- build ----------
const shades=[
 ...shadeLabrador.map(([l,p])=>[l,C(p)]),
 ...shadeWarm.map(([l,p])=>[l,W(p)]),
 ...shadeColdKara.map(([l,p])=>[l,B(p)]),
 ...shadeColdNorth.map(([l,p])=>[l,N(p)]),
 ...shadeColdSouth.map(([l,p])=>[l,S(p)]),
];
const coasts=[...coastNW.map(A),...coastSW.map(C),...coastDenmarkStrait.map(W),...coastNE.map(B),...coastIslandsBarents.map(N),...coastBaltic.map(S),...coastEurope.map(D)];
const mapLine=(data,color,width,type,smooth,z)=>({type:'line',xAxisIndex:0,yAxisIndex:0,data,showSymbol:false,symbol:'none',silent:true,smooth:smooth||false,z,
  lineStyle:{color,width,type,cap:'round',join:'round'},clip:true});
const K='#000';
const SERIF='"DejaVu Serif"',NARROW='"Liberation Serif"';
const series=[
 {type:'custom',xAxisIndex:0,yAxisIndex:0,z:1,silent:true,clip:true,data:shades.map((s,i)=>[i]),
  renderItem:(p,api)=>{const s=shades[p.dataIndex];const pts=s[1].map(q=>api.coord(q));
    return {type:'polygon',shape:{points:pts},style:{fill:levelColors[s[0]],stroke:levelColors[s[0]],lineWidth:1}};}},
 ...graticule.map(d=>mapLine(d,'#aaaaaa',3.4,[10,11],false,2)),
 ...coasts.map(d=>mapLine(d,'#aaaaaa',3.6,'solid',false,3)),
 mapLine(solidThick,K,8,'solid',0.25,5),
 ...[solid1,solid2,solid3,solid4,solid5,solid6].map(d=>mapLine(d,K,3.4,'solid',0.25,5)),
 ...[dashD,dashC,dashB,dashA,dashE,dashOval,dashSquare].map(d=>mapLine(d,K,3.4,[27,11],0.25,5)),
 {type:'custom',xAxisIndex:2,yAxisIndex:2,z:3,silent:true,data:levelColors.map((c,i)=>[i]),
  renderItem:(p,api)=>{const i=p.dataIndex,a=api.coord([i,0]),b=api.coord([i+1,1]);
    return {type:'rect',shape:{x:a[0],y:b[1],width:b[0]-a[0],height:a[1]-b[1]},style:{fill:levelColors[i],stroke:K,lineWidth:2}};}},
 {name:'NAO',type:'line',xAxisIndex:3,yAxisIndex:5,data:years.map((y,i)=>[y,nao[i]]),showSymbol:false,symbol:'none',z:4,lineStyle:{color:'#000',width:3,join:'miter'}},
 {name:'SIC',type:'line',xAxisIndex:3,yAxisIndex:5,data:years.map((y,i)=>[y,sic[i]]),showSymbol:false,symbol:'none',z:5,lineStyle:{color:'#e4283c',width:3,join:'miter'}},
];
const lineK=w=>({show:true,onZero:false,lineStyle:{color:K,width:w}});
const none={show:false};
const xAxis=[
 {gridIndex:0,type:'value',position:'bottom',min:34,max:1433,axisLine:lineK(7),splitLine:none,
  axisTick:{show:true,inside:false,length:36,customValues:lonTicks,lineStyle:{color:K,width:4.5}},
  axisLabel:{show:true,customValues:lonTicks,margin:64,formatter:v=>lonLabels[lonTicks.indexOf(v)]||'',color:K,fontFamily:NARROW,fontSize:50,hideOverlap:false}},
 {gridIndex:0,type:'value',position:'top',min:34,max:1433,axisLine:lineK(6),axisTick:none,axisLabel:none,splitLine:none},
 {gridIndex:1,type:'value',position:'bottom',min:0,max:12,axisLine:lineK(6),splitLine:none,axisTick:none,
  axisLabel:{show:true,customValues:barTicks,margin:26,formatter:v=>barLabels[barTicks.indexOf(v)]||'',color:K,fontFamily:NARROW,fontSize:50}},
 {gridIndex:2,type:'value',position:'bottom',min:300,max:400,interval:20,axisLine:lineK(6),splitLine:none,
  axisTick:{show:true,inside:true,length:40,lineStyle:{color:K,width:6}},
  minorTick:{show:true,splitNumber:4,length:20,lineStyle:{color:K,width:3.5}},
  axisLabel:{show:true,margin:38,color:K,fontFamily:SERIF,fontSize:60,hideOverlap:false,showMinLabel:true,showMaxLabel:true}},
 {gridIndex:2,type:'value',position:'top',min:300,max:400,interval:20,axisLine:lineK(5),splitLine:none,
  axisTick:{show:true,inside:true,length:40,lineStyle:{color:K,width:6}},
  minorTick:{show:true,splitNumber:4,length:20,lineStyle:{color:K,width:3.5}},axisLabel:none},
 {gridIndex:1,type:'value',position:'top',min:0,max:12,axisLine:lineK(3.5),splitLine:none,axisTick:none,axisLabel:none},
];
const fmtY=v=>(v<0?'−':'')+Math.abs(v).toFixed(1);
const yB=(pos,ticks,len,w,labels)=>({gridIndex:2,type:'value',position:pos,min:-3.5,max:4,axisLine:lineK(7),splitLine:none,
  axisTick:{show:true,inside:true,length:len,customValues:ticks,lineStyle:{color:K,width:w}},
  axisLabel:labels?{show:true,customValues:ticks,margin:38,color:K,fontFamily:SERIF,fontSize:54,formatter:fmtY,hideOverlap:false}:none});
const yAxis=[
 {gridIndex:0,type:'value',inverse:true,position:'left',min:52,max:1254,axisLine:lineK(5),axisTick:none,axisLabel:none,splitLine:none},
 {gridIndex:0,type:'value',inverse:true,position:'right',min:52,max:1254,axisLine:lineK(5),axisTick:none,axisLabel:none,splitLine:none},
 {gridIndex:1,type:'value',min:0,max:1,axisLine:{show:false},axisTick:none,axisLabel:none,splitLine:none},
 yB('left',yMinor,20,2.5,false),
 yB('right',yMinor,20,2.5,false),
 yB('left',yMajor,41,5,true),
 yB('right',yMajor,41,5,false),
];
// top x and extra y axes are bound through empty companion series
const companions=[
 {xAxisIndex:1,yAxisIndex:1},{xAxisIndex:4,yAxisIndex:3},{xAxisIndex:3,yAxisIndex:4},{xAxisIndex:4,yAxisIndex:6},{xAxisIndex:5,yAxisIndex:2},
].map(b=>({type:'line',data:[],...b}));

const boxEl=(x,y,w,h,lw)=>({type:'rect',z:100,shape:{x,y,width:w,height:h},style:{fill:'#fff',stroke:K,lineWidth:lw}});
const textEl=(t,x,y,size,fam,o)=>({type:'text',z:101,x,y,scaleX:(o&&o.sx)||1,scaleY:(o&&o.sy)||1,rotation:(o&&o.rot)||0,
  style:{text:t,fill:K,font:size+'px '+fam,textAlign:(o&&o.align)||'center',textVerticalAlign:'middle'}});
const keyLine=(x1,x2,y,c)=>({type:'line',z:100,shape:{x1,y1:y,x2,y2:y},style:{stroke:c,lineWidth:2.8}});
const graphic=[
 boxEl(1277,1123,126,102,4),textEl('a.',1340,1172,84,SERIF),
 boxEl(2840,1125,133,120,3),textEl('b.',2906,1185,84,SERIF),
 keyLine(2594,2786,177,'#e4283c'),keyLine(2594,2786,343,'#000'),
 textEl('SIC',2789,182,52,SERIF,{align:'left'}),
 textEl('NAO',2789,348,52,SERIF,{align:'left'}),
 boxEl(652,1379,780,46,4),
 textEl('CONTOUR FROM −.1 TO .1 BY .005',1042,1403,50,NARROW,{sx:1.0}),
 textEl('Principal Component',1520,661,72,SERIF,{rot:Math.PI/2,sx:1.15}),
 textEl('Time (year)',2387,1439,74,SERIF,{sx:1.125}),
];
const chart=echarts.init(document.getElementById('c'),null,{renderer:'canvas',width:3058,height:1526});
chart.setOption({animation:false,backgroundColor:'#fff',tooltip:{show:false},legend:{show:false},
 grid:[{left:34,top:52,width:1399,height:1202,containLabel:false},{left:51,top:1430,width:1364,height:31,containLabel:false},{left:1774,top:53,width:1225,height:1221,containLabel:false}],
 xAxis,yAxis,series:[...series,...companions],graphic:{elements:graphic}});
</script></body></html>
